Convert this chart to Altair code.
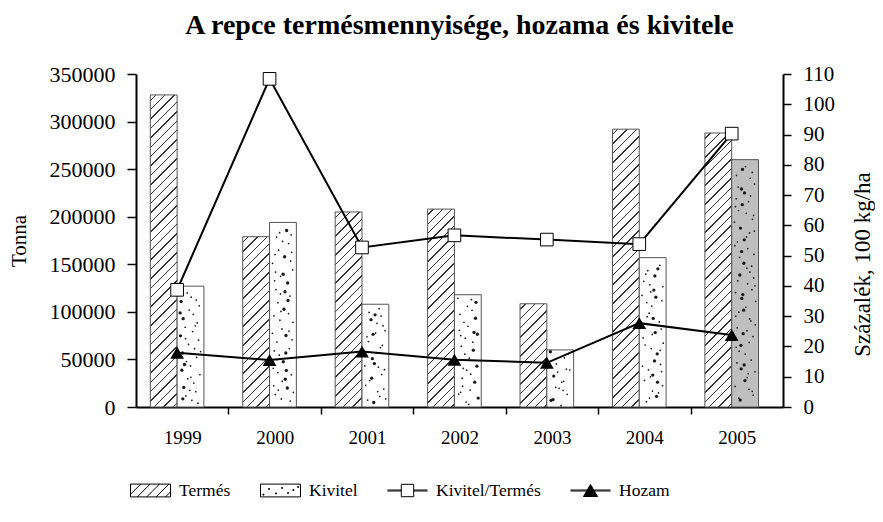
import altair as alt
import pandas as pd

# ---------------- data ----------------
years = [1999, 2000, 2001, 2002, 2003, 2004, 2005]
termes = [328000, 179000, 205000, 208000, 108500, 292000, 288000]          # Tonna
kivitel = [127000, 194000, 108000, 118000, 60000, 157000, 260000]          # Tonna
kivitel_termes = [38.7, 108.4, 52.7, 56.7, 55.3, 53.8, 90.3]               # %
hozam = [17.9, 15.5, 18.3, 15.6, 14.6, 27.7, 23.8]                         # 100 kg/ha
left_ticks = [0, 50000, 100000, 150000, 200000, 250000, 300000, 350000]
right_ticks = [0, 10, 20, 30, 40, 50, 60, 70, 80, 90, 100, 110]
series = ["Termés", "Kivitel", "Kivitel/Termés", "Hozam"]
title_text = "A repce termésmennyisége, hozama és kivitele"

# ---------------- layout / style constants ----------------
W, H = 647, 333
YMAX_L, YMAX_R = 350000, 110
BAR_W = 0.29          # bar width in category units
SHIFT = -0.055        # bar pair centre offset from band centre
FONT = "Liberation Serif"
BAR_STROKE = "#555555"
BAND_PX = W / 7.0
BAR_PX = BAR_W * BAND_PX


def hatch_gradient(h_px, w_px=BAR_PX, spacing=9.4, half=0.7, col="#333333"):
    L = w_px + h_px
    k = L / (w_px * w_px + h_px * h_px)
    stops = [{"offset": 0, "color": "white"}]
    c = spacing * 0.6
    while c < L:
        a, b = (c - half) / L, (c + half) / L
        if a > 0 and b < 1:
            a, b = round(a, 5), round(b, 5)
            stops += [{"offset": a, "color": "white"}, {"offset": a, "color": col},
                      {"offset": b, "color": col}, {"offset": b, "color": "white"}]
        c += spacing
    stops.append({"offset": 1, "color": "white"})
    return {"gradient": "linear", "x1": 0, "y1": 0, "x2": k * w_px, "y2": k * h_px, "stops": stops}


def halton(i, b):
    f, r = 1.0, 0.0
    while i > 0:
        f /= b
        r += f * (i % b)
        i //= b
    return r


df = pd.DataFrame({"year": years, "termes": termes, "kivitel": kivitel,
                   "arany": kivitel_termes, "hozam": hozam})

# texture dots for the "Kivitel" bars (quasi-random Halton pattern, unit coords)
dot_rows = []
for j, (yr, v) in enumerate(zip(years, kivitel)):
    h_px = v / YMAX_L * H
    n = int(round(h_px * BAR_PX / 90.0))
    for i in range(1, n + 1):
        dot_rows.append({"year": yr, "kivitel": v, "i": i,
                         "u": 0.1 + 0.8 * halton(i + 17 * j, 2),
                         "v": 0.02 + 0.96 * halton(i + 17 * j, 3)})
dots_df = pd.DataFrame(dot_rows)

xscale = alt.Scale(domain=[0, 7], nice=False, zero=False)
yl = alt.Scale(domain=[0, YMAX_L], nice=False)
yr_ = alt.Scale(domain=[0, YMAX_R], nice=False)

center_expr = f"datum.year - 1999 + 0.5 + ({SHIFT})"

base = alt.Chart(df).transform_calculate(
    c=center_expr,
    tl=f"{center_expr} - {BAR_W}",
    kr=f"{center_expr} + {BAR_W}",
)

# x axis: labels at category centres, ticks at category boundaries
x_label_axis = alt.Axis(
    orient="bottom", values=[i + 0.5 for i in range(7)],
    labelExpr="toString(1999 + floor(datum.value))",
    ticks=False, tickSize=0, domain=True, domainWidth=2, domainColor="black",
    labelPadding=21, labelFont=FONT, labelFontSize=19, labelOverlap=False, labelFlush=False,
    grid=False, title=None,
)
x_tick_axis = alt.Axis(
    orient="bottom", values=[1, 2, 3, 4, 5, 6], labels=False, domain=False,
    ticks=True, tickSize=7, tickWidth=1.5, tickColor="black", grid=False, title=None,
)
left_axis = alt.Axis(orient="left", values=left_ticks, format="d", tickSize=9, tickWidth=1.5,
                     domainWidth=2, labelPadding=12, labelFont=FONT, labelFontSize=22, grid=False,
                     title="Tonna", titleFont=FONT, titleFontSize=21, titleAngle=270,
                     titleAlign="center", titleBaseline="middle", titleX=-117, titleY=H / 2)
right_axis = alt.Axis(orient="right", values=right_ticks, tickSize=8, tickWidth=1.5, domainWidth=2,
                      labelPadding=12, labelFont=FONT, labelFontSize=21, grid=False,
                      title="Százalék, 100 kg/ha", titleFont=FONT, titleFontWeight="normal",
                      titleFontSize=23, titleAngle=270, titleAlign="center",
                      titleBaseline="middle", titleX=79, titleY=190)

# Termés bars (hatched) – one layer per bar so each gets its own 45° hatch
layers = []
for j, (yr, v) in enumerate(zip(years, termes)):
    grad = hatch_gradient(v / YMAX_L * H)
    layers.append(
        base.transform_filter(f"datum.year == {yr}").mark_bar(
            fill=grad, stroke=BAR_STROKE, strokeWidth=1
        ).encode(
            x=alt.X("tl:Q", scale=xscale, axis=x_label_axis if j == 0 else None),
            x2="c:Q",
            y=alt.Y("termes:Q", scale=yl, axis=left_axis if j == 0 else None),
            y2=alt.datum(0),
        )
    )

kivitel_bars = base.mark_bar(stroke=BAR_STROKE, strokeWidth=1).encode(
    x=alt.X("c:Q", scale=xscale, axis=x_tick_axis),
    x2="kr:Q",
    y=alt.Y("kivitel:Q", scale=yl, axis=None),
    y2=alt.datum(0),
    fill=alt.condition("datum.year == 2005", alt.value("#bfbfbf"), alt.value("white")),
)

dots = alt.Chart(dots_df).transform_calculate(
    dx=f"{center_expr} + datum.u * {BAR_W}",
    dy="datum.v * datum.kivitel",
).mark_circle(color="#1a1a1a", opacity=1).encode(
    x=alt.X("dx:Q", scale=xscale, axis=None),
    y=alt.Y("dy:Q", scale=yl, axis=None),
    size=alt.condition("datum.i % 4 == 0", alt.value(11), alt.value(3)),
)

kt_line = base.mark_line(color="black", strokeWidth=2).encode(
    x=alt.X("c:Q", scale=xscale, axis=None),
    y=alt.Y("arany:Q", scale=yr_, axis=right_axis),
)
hz_line = base.mark_line(color="black", strokeWidth=2).encode(
    x=alt.X("c:Q", scale=xscale, axis=None),
    y=alt.Y("hozam:Q", scale=yr_, axis=None),
)
kt_pts = base.mark_point(shape="square", size=160, filled=True, fill="white",
                         stroke="black", strokeWidth=1, opacity=1).encode(
    x=alt.X("c:Q", scale=xscale, axis=None),
    y=alt.Y("arany:Q", scale=yr_, axis=None),
)
hz_pts = base.mark_point(shape="triangle-up", size=190, filled=True, color="black", opacity=1).encode(
    x=alt.X("c:Q", scale=xscale, axis=None),
    y=alt.Y("hozam:Q", scale=yr_, axis=None),
)

# ---------------- legend (custom symbol paths, unit = 20 px) ----------------
def termes_symbol():
    p = "M-1,-0.32L1,-0.32L1,0.32L-1,0.32Z"
    a = -1.6
    while a < 1:
        s0, s1 = max(0.0, -1 - a), min(0.64, 1 - a)
        if s1 > s0:
            p += f"M{a + s0:.3f},{0.32 - s0:.3f}L{a + s1:.3f},{0.32 - s1:.3f}"
        a += 0.47
    return p


def kivitel_symbol():
    p = "M-1,-0.32L1,-0.32L1,0.32L-1,0.32Z"
    for x, y in [(-0.88, 0.18), (-0.6, -0.1), (-0.25, 0.12), (0.05, -0.15), (0.35, 0.1), (0.62, -0.05), (0.86, -0.2)]:
        p += f"M{x},{y}h0.05v0.05h-0.05Z"
    return p


kt_symbol = ("M-1,-0.025H-0.31M-1,0.025H-0.31M0.31,-0.025H1M0.31,0.025H1"
             "M-0.31,-0.31H0.31V0.31H-0.31Z")
hz_symbol = "M-1,-0.025H1M-1,0.025H1M-0.35,0.3L0.35,0.3L0,-0.3Z"

leg = alt.Legend(orient="none", legendX=-6, legendY=396, direction="horizontal", title=None,
                 labelFont=FONT, labelFontSize=17.5, labelColor="black", symbolSize=1600,
                 symbolStrokeWidth=1, labelOffset=8, symbolOpacity=1,
                 columnPadding=27, padding=0, labelLimit=300)

legend_df = pd.DataFrame({"series": series})
legend_layer = alt.Chart(legend_df).transform_filter("false").mark_point(
    filled=True, strokeWidth=1, opacity=1
).encode(
    shape=alt.Shape("series:N", scale=alt.Scale(
        domain=series, range=[termes_symbol(), kivitel_symbol(), kt_symbol, hz_symbol]), legend=leg),
    fill=alt.Fill("series:N", scale=alt.Scale(
        domain=series, range=["white", "white", "white", "black"]), legend=leg),
    stroke=alt.Stroke("series:N", scale=alt.Scale(
        domain=series, range=["black", "black", "black", "black"]), legend=leg),
)

layers += [kivitel_bars, dots, kt_line, hz_line, kt_pts, hz_pts, legend_layer]

chart = alt.layer(*layers).resolve_scale(y="independent").resolve_axis(
    x="independent", y="independent"
).properties(
    width=W, height=H,
    background="white",
    title=alt.TitleParams(title_text, font=FONT, fontSize=28, fontWeight="bold",
                          color="black", anchor="middle", offset=23),
    autosize=alt.AutoSizeParams(type="none"),
    padding={"left": 128, "top": 66, "right": 92, "bottom": 107},
).configure_view(stroke=None).configure_axis(
    labelFont=FONT, labelFontSize=21, labelColor="black",
    titleFont=FONT, titleFontSize=21, titleFontWeight="normal", titleColor="black",
    domainColor="black", tickColor="black",
).configure_legend(labelFont=FONT, labelFontSize=17.5, labelColor="black")

chart.save("out.html", embed_options={"renderer": "svg", "actions": False})
